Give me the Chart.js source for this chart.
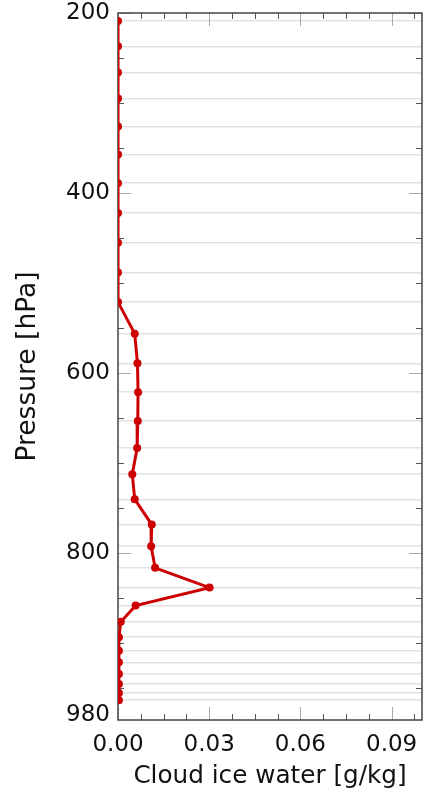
<!DOCTYPE html>
<html>
<head>
<meta charset="utf-8">
<title>Cloud ice water profile</title>
<script src="https://cdn.jsdelivr.net/npm/chart.js@4.4.0/dist/chart.umd.min.js"></script>
<style>
  html, body { margin: 0; padding: 0; background: #fff; }
  #wrap { width: 426px; height: 795px; }
</style>
</head>
<body>
<div id="wrap"><canvas id="profile"></canvas></div>
<script>
// data (hPa, g/kg)
const pressureLevels = [209, 237, 266, 295, 326, 357, 389, 422, 455, 488, 521,
  556, 589, 621, 653, 683, 712, 740, 768, 792, 816, 838, 858, 876,
  893, 908, 921, 934, 945, 955, 963];
const iceWater = [0, 0, 0, 0, 0, 0, 0, 0, 0, 0, 0,
  0.0055, 0.0064, 0.0066, 0.0065, 0.0063, 0.0047, 0.0055, 0.0111, 0.0109, 0.0122, 0.0301, 0.0058, 0.0009,
  0.0003, 0.0003, 0.0003, 0.0003, 0.0003, 0.0003, 0.0003];

// axis ticks
const pressureTicks = [200, 400, 600, 800, 980];
const pressureMajor = [200, 400, 600, 800];
const pressureMinor = [250, 300, 350, 450, 500, 550, 650, 700, 750, 850, 900, 950];
const iceTicks = [0, 0.03, 0.06, 0.09];
const iceMinor = [0.0075, 0.015, 0.0225, 0.0375, 0.045, 0.0525, 0.0675, 0.075, 0.0825, 0.0975];

const FONT = "'DejaVu Sans', sans-serif";
const RED = '#cc0000';

// frame + inward tick marks on all four sides
const frameTicks = {
  id: 'frameTicks',
  beforeDatasetsDraw(chart) {
    const { ctx, chartArea: a } = chart;
    const x = chart.scales.x, y = chart.scales.y;
    ctx.save();
    ctx.lineWidth = 1;
    const mark = (x1, y1, x2, y2, col) => {
      ctx.strokeStyle = col;
      ctx.beginPath(); ctx.moveTo(x1, y1); ctx.lineTo(x2, y2); ctx.stroke();
    };
    iceMinor.forEach(v => {
      const px = Math.round(x.getPixelForValue(v)) + 0.5;
      mark(px, a.bottom, px, a.bottom - 6, '#555');
      mark(px, a.top, px, a.top + 6, '#555');
    });
    iceTicks.forEach(v => {
      const px = Math.round(x.getPixelForValue(v)) + 0.5;
      mark(px, a.bottom, px, a.bottom - 13, '#aaa');
      mark(px, a.top, px, a.top + 13, '#aaa');
    });
    pressureMinor.forEach(v => {
      const py = Math.round(y.getPixelForValue(v)) + 0.5;
      mark(a.left, py, a.left + 6, py, '#555');
      mark(a.right, py, a.right - 6, py, '#555');
    });
    pressureMajor.forEach(v => {
      const py = Math.round(y.getPixelForValue(v)) + 0.5;
      mark(a.left, py, a.left + 13, py, '#aaa');
      mark(a.right, py, a.right - 13, py, '#aaa');
    });
    ctx.strokeStyle = '#444';
    ctx.lineWidth = 1.5;
    ctx.strokeRect(a.left, a.top, a.right - a.left, a.bottom - a.top);
    ctx.restore();
  }
};

const ctx = document.getElementById('profile').getContext('2d');
new Chart(ctx, {
  type: 'scatter',
  data: {
    datasets: [{
      label: 'Cloud ice water',
      data: pressureLevels.map((p, i) => ({ x: iceWater[i], y: p })),
      showLine: true,
      borderColor: RED,
      borderWidth: 3,
      backgroundColor: RED,
      pointBackgroundColor: RED,
      pointBorderWidth: 0,
      pointRadius: 4,
      tension: 0
    }]
  },
  options: {
    responsive: true,
    maintainAspectRatio: false,
    animation: false,
    devicePixelRatio: 1,
    layout: { padding: { top: 13, right: 1, left: 0, bottom: 0 } },
    plugins: { legend: { display: false }, tooltip: { enabled: false } },
    scales: {
      x: {
        type: 'linear',
        min: 0,
        max: 0.1,
        afterBuildTicks: s => { s.ticks = iceTicks.map(v => ({ value: v })); },
        afterFit: s => { s.height = 75; s.paddingLeft = 0; s.paddingRight = 0; },
        ticks: {
          callback: v => v.toFixed(2),
          font: { family: FONT, size: 23 },
          color: '#111',
          padding: 11,
          maxRotation: 0,
          autoSkip: false
        },
        grid: { display: false, drawTicks: false },
        border: { display: false },
        title: {
          display: true,
          text: 'Cloud ice water [g/kg]',
          font: { family: FONT, size: 24.7 },
          color: '#111',
          padding: { top: 0, bottom: 4 }
        }
      },
      y: {
        type: 'linear',
        reverse: true,
        min: 200,
        max: 985,
        afterBuildTicks: s => { s.ticks = pressureTicks.map(v => ({ value: v })); },
        afterFit: s => { s.width = 118; s.paddingTop = 0; s.paddingBottom = 0; },
        ticks: {
          font: { family: FONT, size: 23 },
          color: '#111',
          padding: 8,
          autoSkip: false
        },
        grid: { display: false, drawTicks: false },
        border: { display: false },
        title: {
          display: true,
          text: 'Pressure [hPa]',
          font: { family: FONT, size: 26.5 },
          color: '#111',
          padding: { top: 12, bottom: 0 }
        }
      },
      levels: {
        type: 'linear',
        position: 'right',
        reverse: true,
        min: 200,
        max: 985,
        afterBuildTicks: s => { s.ticks = pressureLevels.map(v => ({ value: v })); },
        afterFit: s => { s.width = 0; s.paddingTop = 0; s.paddingBottom = 0; },
        ticks: { display: false },
        grid: { color: '#e2e2e2', lineWidth: 1.5, drawTicks: false },
        border: { display: false }
      }
    }
  },
  plugins: [frameTicks]
});
</script>
</body>
</html>
